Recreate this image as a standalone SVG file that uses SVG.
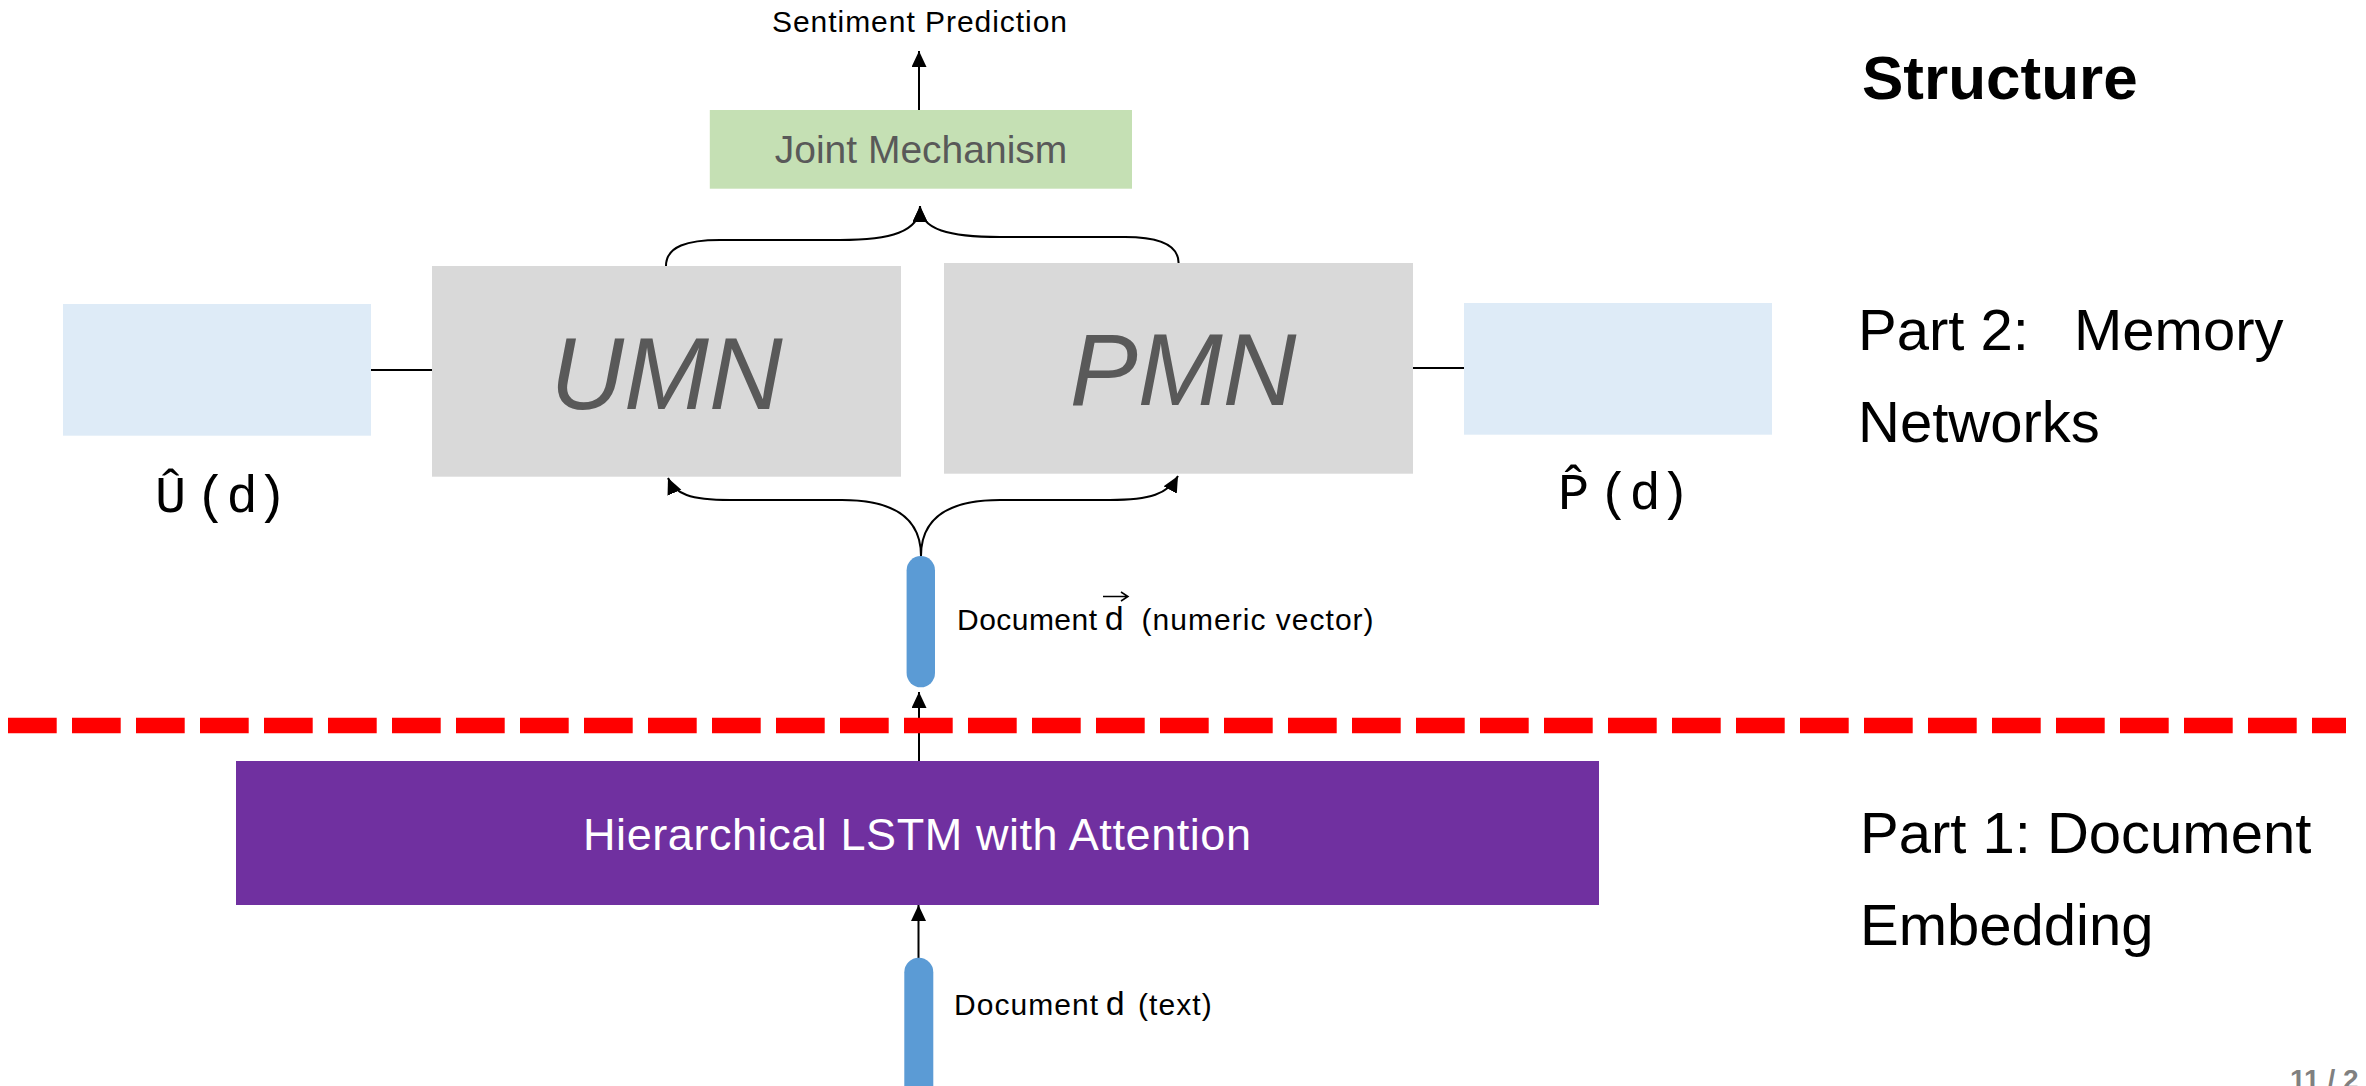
<svg xmlns="http://www.w3.org/2000/svg" width="2366" height="1086" viewBox="0 0 2366 1086">
<defs>
<style>
.sans{font-family:"Liberation Sans",Arial,sans-serif;}
.mono{font-family:"Liberation Mono","Courier New",monospace;}
.conn{fill:none;stroke:#000;stroke-width:2;}
.gray{fill:#595959;}
.side{font-family:"Liberation Sans",Arial,sans-serif;font-size:58px;fill:#000;}
</style>
<marker id="ah" markerUnits="userSpaceOnUse" markerWidth="17" markerHeight="16" refX="16" refY="7.5" orient="auto" viewBox="0 0 17 16">
<path d="M0,0 L16,7.5 L0,15 z" fill="#000"/>
</marker>
</defs>
<rect width="2366" height="1086" fill="#fff"/>

<g id="connectors">
<line class="conn" x1="919" y1="110" x2="919" y2="51" marker-end="url(#ah)"/>
<path class="conn" d="M666,266 C666,246 688,240 720,240 L840,240 C890,240 920,232 920,206" marker-end="url(#ah)"/>
<path class="conn" d="M1178.6,263 C1178.6,243 1156,237 1125,237 L1000,237 C950,237 920,230 920,206" marker-end="url(#ah)"/>
<path class="conn" d="M921,556 C921,518 948,500 1000,500 L1110,500 C1150,500 1168,494 1178,476" marker-end="url(#ah)"/>
<path class="conn" d="M921,556 C921,518 894,500 842,500 L730,500 C690,500 675,494 668,478" marker-end="url(#ah)"/>
<line class="conn" x1="371" y1="370" x2="432" y2="370"/>
<line class="conn" x1="1413" y1="368" x2="1464" y2="368"/>
<line class="conn" x1="919" y1="761" x2="919" y2="692" marker-end="url(#ah)"/>
<line class="conn" x1="918.5" y1="958" x2="918.5" y2="905" marker-end="url(#ah)"/>
</g>

<g id="separator">
<line x1="8" y1="725.5" x2="2346" y2="725.5" stroke="#FF0000" stroke-width="15.6" stroke-dasharray="48.7 15.3"/>
</g>

<g id="sentiment-prediction">
<text class="sans" x="772" y="31.7" font-size="30" textLength="295" fill="#000">Sentiment Prediction</text>
</g>

<g id="joint-mechanism">
<rect x="709.8" y="110" width="422.2" height="78.7" fill="#C5E0B4"/>
<text class="sans gray" x="921" y="163" font-size="39" text-anchor="middle">Joint Mechanism</text>
</g>

<g id="umn">
<rect x="432" y="266" width="469" height="210.7" fill="#D9D9D9"/>
<text class="sans gray" x="666.5" y="408.7" font-size="102" font-style="italic" text-anchor="middle">UMN</text>
</g>

<g id="pmn">
<rect x="944" y="263" width="469" height="210.7" fill="#D9D9D9"/>
<text class="sans gray" x="1183" y="405" font-size="102" font-style="italic" text-anchor="middle">PMN</text>
</g>

<g id="user-memory">
<rect x="63" y="304" width="308" height="131.7" fill="#DEEBF7"/>
<text class="mono" y="512" font-size="52" fill="#000"><tspan x="155">Û</tspan><tspan x="195.5">(</tspan><tspan x="226.5">d</tspan><tspan x="256">)</tspan></text>
</g>

<g id="product-memory">
<rect x="1464" y="303" width="308" height="131.7" fill="#DEEBF7"/>
<text class="mono" y="509" font-size="52" fill="#000"><tspan x="1558">P̂</tspan><tspan x="1598.5">(</tspan><tspan x="1629.5">d</tspan><tspan x="1659">)</tspan></text>
</g>

<g id="doc-vector">
<rect x="906.6" y="556" width="28.4" height="131.3" rx="14.2" fill="#5B9BD5"/>
<text class="sans" x="957" y="630" font-size="30" textLength="140" fill="#000">Document</text>
<text class="mono" x="1104" y="630" font-size="34" fill="#000">d</text>
<path d="M1103,596.5 L1127,596.5 M1121,592 L1128,596.5 L1121,601" fill="none" stroke="#000" stroke-width="1.5"/>
<text class="sans" x="1141.6" y="630" font-size="30" textLength="232" fill="#000">(numeric vector)</text>
</g>

<g id="lstm">
<rect x="236" y="761" width="1363" height="144" fill="#7030A0"/>
<text class="sans" x="917" y="850" font-size="45" text-anchor="middle" textLength="668" fill="#fff">Hierarchical LSTM with Attention</text>
</g>

<g id="doc-text">
<rect x="904.3" y="957.7" width="29" height="160" rx="14.5" fill="#5B9BD5"/>
<text class="sans" x="954" y="1015" font-size="30" textLength="144" fill="#000">Document</text>
<text class="mono" x="1105" y="1015" font-size="34" fill="#000">d</text>
<text class="sans" x="1138" y="1015" font-size="30" textLength="73.7" fill="#000">(text)</text>
</g>

<g id="labels">
<text class="sans" x="1862" y="99" font-size="62" font-weight="bold" fill="#000">Structure</text>
<text class="side" y="350"><tspan x="1858">Part 2:</tspan><tspan x="2074">Memory</tspan></text>
<text class="side" x="1858" y="441.7">Networks</text>
<text class="side" x="1860" y="852.7">Part 1: Document</text>
<text class="side" x="1860" y="945">Embedding</text>
<text class="sans" x="2290" y="1089" font-size="28" font-weight="bold" fill="#808080">11 / 2</text>
</g>
</svg>
